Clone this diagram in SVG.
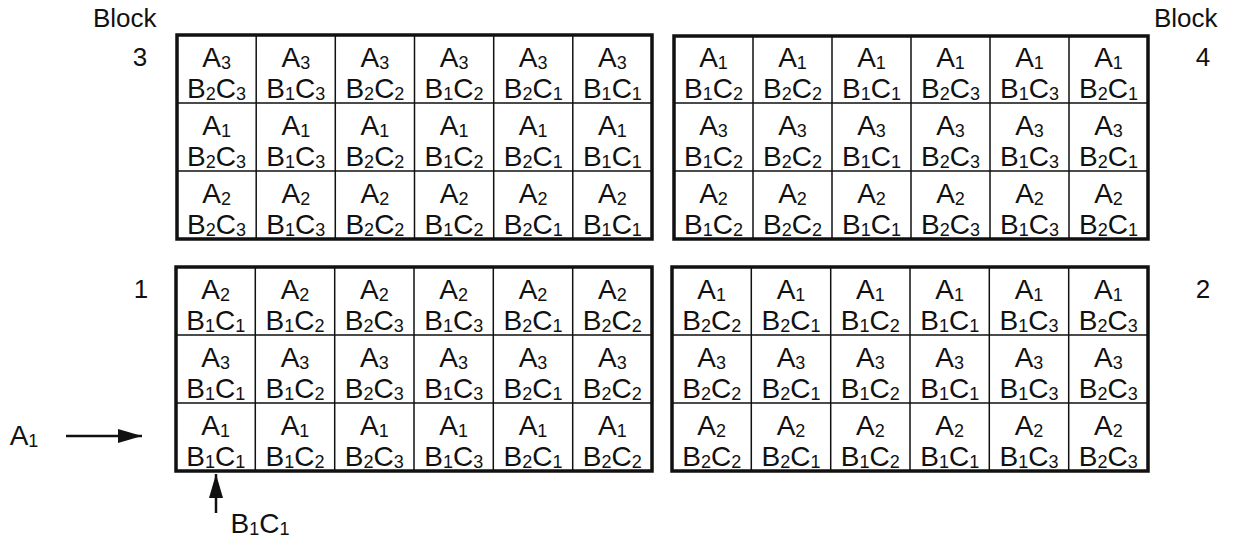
<svg xmlns="http://www.w3.org/2000/svg" width="1235" height="539" viewBox="0 0 1235 539">
<style>
  .t { font-family: "Liberation Sans", Arial, sans-serif; font-size: 28px; fill: #111; text-anchor: middle; }
  .s { font-size: 18px; }
  .lbl { font-family: "Liberation Sans", Arial, sans-serif; font-size: 26px; fill: #111; }
  .num { font-family: "Liberation Sans", Arial, sans-serif; font-size: 26px; fill: #111; text-anchor: middle; }
  .outer { fill: #fff; stroke: #111; stroke-width: 3.5; }
  .inner { fill: none; stroke: #111; stroke-width: 1.5; }
  .arrow { stroke: #111; stroke-width: 2.5; fill: none; }
</style>
<defs>
  <marker id="ah" viewBox="0 0 24 14" refX="24" refY="7" markerWidth="24" markerHeight="14" markerUnits="userSpaceOnUse" orient="auto">
    <path d="M0,0 L24,7 L0,14 Z" fill="#111"/>
  </marker>
</defs>
<rect width="1235" height="539" fill="#fff"/>

<g id="labels">
  <text class="lbl" x="93" y="27">Block</text>
  <text class="num" x="140" y="66">3</text>
  <text class="lbl" x="1154" y="27">Block</text>
  <text class="num" x="1203" y="66">4</text>
  <text class="num" x="141" y="298">1</text>
  <text class="num" x="1203" y="298">2</text>
</g>

<g id="block3">
  <rect class="outer" x="177" y="35" width="475" height="204"/>
  <path class="inner" d="M256.2,35V239M335.3,35V239M414.5,35V239M493.7,35V239M572.8,35V239M177,103H652M177,171H652"/>
  <g class="t">
    <text x="216.6" y="67">A<tspan class="s" dy="2">3</tspan><tspan x="216.6" dy="29">B</tspan><tspan class="s" dy="2">2</tspan><tspan dy="-2">C</tspan><tspan class="s" dy="2">3</tspan></text>
    <text x="295.8" y="67">A<tspan class="s" dy="2">3</tspan><tspan x="295.8" dy="29">B</tspan><tspan class="s" dy="2">1</tspan><tspan dy="-2">C</tspan><tspan class="s" dy="2">3</tspan></text>
    <text x="374.9" y="67">A<tspan class="s" dy="2">3</tspan><tspan x="374.9" dy="29">B</tspan><tspan class="s" dy="2">2</tspan><tspan dy="-2">C</tspan><tspan class="s" dy="2">2</tspan></text>
    <text x="454.1" y="67">A<tspan class="s" dy="2">3</tspan><tspan x="454.1" dy="29">B</tspan><tspan class="s" dy="2">1</tspan><tspan dy="-2">C</tspan><tspan class="s" dy="2">2</tspan></text>
    <text x="533.2" y="67">A<tspan class="s" dy="2">3</tspan><tspan x="533.2" dy="29">B</tspan><tspan class="s" dy="2">2</tspan><tspan dy="-2">C</tspan><tspan class="s" dy="2">1</tspan></text>
    <text x="612.4" y="67">A<tspan class="s" dy="2">3</tspan><tspan x="612.4" dy="29">B</tspan><tspan class="s" dy="2">1</tspan><tspan dy="-2">C</tspan><tspan class="s" dy="2">1</tspan></text>
    <text x="216.6" y="135">A<tspan class="s" dy="2">1</tspan><tspan x="216.6" dy="29">B</tspan><tspan class="s" dy="2">2</tspan><tspan dy="-2">C</tspan><tspan class="s" dy="2">3</tspan></text>
    <text x="295.8" y="135">A<tspan class="s" dy="2">1</tspan><tspan x="295.8" dy="29">B</tspan><tspan class="s" dy="2">1</tspan><tspan dy="-2">C</tspan><tspan class="s" dy="2">3</tspan></text>
    <text x="374.9" y="135">A<tspan class="s" dy="2">1</tspan><tspan x="374.9" dy="29">B</tspan><tspan class="s" dy="2">2</tspan><tspan dy="-2">C</tspan><tspan class="s" dy="2">2</tspan></text>
    <text x="454.1" y="135">A<tspan class="s" dy="2">1</tspan><tspan x="454.1" dy="29">B</tspan><tspan class="s" dy="2">1</tspan><tspan dy="-2">C</tspan><tspan class="s" dy="2">2</tspan></text>
    <text x="533.2" y="135">A<tspan class="s" dy="2">1</tspan><tspan x="533.2" dy="29">B</tspan><tspan class="s" dy="2">2</tspan><tspan dy="-2">C</tspan><tspan class="s" dy="2">1</tspan></text>
    <text x="612.4" y="135">A<tspan class="s" dy="2">1</tspan><tspan x="612.4" dy="29">B</tspan><tspan class="s" dy="2">1</tspan><tspan dy="-2">C</tspan><tspan class="s" dy="2">1</tspan></text>
    <text x="216.6" y="203">A<tspan class="s" dy="2">2</tspan><tspan x="216.6" dy="29">B</tspan><tspan class="s" dy="2">2</tspan><tspan dy="-2">C</tspan><tspan class="s" dy="2">3</tspan></text>
    <text x="295.8" y="203">A<tspan class="s" dy="2">2</tspan><tspan x="295.8" dy="29">B</tspan><tspan class="s" dy="2">1</tspan><tspan dy="-2">C</tspan><tspan class="s" dy="2">3</tspan></text>
    <text x="374.9" y="203">A<tspan class="s" dy="2">2</tspan><tspan x="374.9" dy="29">B</tspan><tspan class="s" dy="2">2</tspan><tspan dy="-2">C</tspan><tspan class="s" dy="2">2</tspan></text>
    <text x="454.1" y="203">A<tspan class="s" dy="2">2</tspan><tspan x="454.1" dy="29">B</tspan><tspan class="s" dy="2">1</tspan><tspan dy="-2">C</tspan><tspan class="s" dy="2">2</tspan></text>
    <text x="533.2" y="203">A<tspan class="s" dy="2">2</tspan><tspan x="533.2" dy="29">B</tspan><tspan class="s" dy="2">2</tspan><tspan dy="-2">C</tspan><tspan class="s" dy="2">1</tspan></text>
    <text x="612.4" y="203">A<tspan class="s" dy="2">2</tspan><tspan x="612.4" dy="29">B</tspan><tspan class="s" dy="2">1</tspan><tspan dy="-2">C</tspan><tspan class="s" dy="2">1</tspan></text>
  </g>
</g>

<g id="block4">
  <rect class="outer" x="674" y="36" width="474" height="203"/>
  <path class="inner" d="M753,36V239M832,36V239M911,36V239M990,36V239M1069,36V239M674,103H1148M674,171H1148"/>
  <g class="t">
    <text x="713.5" y="67">A<tspan class="s" dy="2">1</tspan><tspan x="713.5" dy="29">B</tspan><tspan class="s" dy="2">1</tspan><tspan dy="-2">C</tspan><tspan class="s" dy="2">2</tspan></text>
    <text x="792.5" y="67">A<tspan class="s" dy="2">1</tspan><tspan x="792.5" dy="29">B</tspan><tspan class="s" dy="2">2</tspan><tspan dy="-2">C</tspan><tspan class="s" dy="2">2</tspan></text>
    <text x="871.5" y="67">A<tspan class="s" dy="2">1</tspan><tspan x="871.5" dy="29">B</tspan><tspan class="s" dy="2">1</tspan><tspan dy="-2">C</tspan><tspan class="s" dy="2">1</tspan></text>
    <text x="950.5" y="67">A<tspan class="s" dy="2">1</tspan><tspan x="950.5" dy="29">B</tspan><tspan class="s" dy="2">2</tspan><tspan dy="-2">C</tspan><tspan class="s" dy="2">3</tspan></text>
    <text x="1029.5" y="67">A<tspan class="s" dy="2">1</tspan><tspan x="1029.5" dy="29">B</tspan><tspan class="s" dy="2">1</tspan><tspan dy="-2">C</tspan><tspan class="s" dy="2">3</tspan></text>
    <text x="1108.5" y="67">A<tspan class="s" dy="2">1</tspan><tspan x="1108.5" dy="29">B</tspan><tspan class="s" dy="2">2</tspan><tspan dy="-2">C</tspan><tspan class="s" dy="2">1</tspan></text>
    <text x="713.5" y="135">A<tspan class="s" dy="2">3</tspan><tspan x="713.5" dy="29">B</tspan><tspan class="s" dy="2">1</tspan><tspan dy="-2">C</tspan><tspan class="s" dy="2">2</tspan></text>
    <text x="792.5" y="135">A<tspan class="s" dy="2">3</tspan><tspan x="792.5" dy="29">B</tspan><tspan class="s" dy="2">2</tspan><tspan dy="-2">C</tspan><tspan class="s" dy="2">2</tspan></text>
    <text x="871.5" y="135">A<tspan class="s" dy="2">3</tspan><tspan x="871.5" dy="29">B</tspan><tspan class="s" dy="2">1</tspan><tspan dy="-2">C</tspan><tspan class="s" dy="2">1</tspan></text>
    <text x="950.5" y="135">A<tspan class="s" dy="2">3</tspan><tspan x="950.5" dy="29">B</tspan><tspan class="s" dy="2">2</tspan><tspan dy="-2">C</tspan><tspan class="s" dy="2">3</tspan></text>
    <text x="1029.5" y="135">A<tspan class="s" dy="2">3</tspan><tspan x="1029.5" dy="29">B</tspan><tspan class="s" dy="2">1</tspan><tspan dy="-2">C</tspan><tspan class="s" dy="2">3</tspan></text>
    <text x="1108.5" y="135">A<tspan class="s" dy="2">3</tspan><tspan x="1108.5" dy="29">B</tspan><tspan class="s" dy="2">2</tspan><tspan dy="-2">C</tspan><tspan class="s" dy="2">1</tspan></text>
    <text x="713.5" y="203">A<tspan class="s" dy="2">2</tspan><tspan x="713.5" dy="29">B</tspan><tspan class="s" dy="2">1</tspan><tspan dy="-2">C</tspan><tspan class="s" dy="2">2</tspan></text>
    <text x="792.5" y="203">A<tspan class="s" dy="2">2</tspan><tspan x="792.5" dy="29">B</tspan><tspan class="s" dy="2">2</tspan><tspan dy="-2">C</tspan><tspan class="s" dy="2">2</tspan></text>
    <text x="871.5" y="203">A<tspan class="s" dy="2">2</tspan><tspan x="871.5" dy="29">B</tspan><tspan class="s" dy="2">1</tspan><tspan dy="-2">C</tspan><tspan class="s" dy="2">1</tspan></text>
    <text x="950.5" y="203">A<tspan class="s" dy="2">2</tspan><tspan x="950.5" dy="29">B</tspan><tspan class="s" dy="2">2</tspan><tspan dy="-2">C</tspan><tspan class="s" dy="2">3</tspan></text>
    <text x="1029.5" y="203">A<tspan class="s" dy="2">2</tspan><tspan x="1029.5" dy="29">B</tspan><tspan class="s" dy="2">1</tspan><tspan dy="-2">C</tspan><tspan class="s" dy="2">3</tspan></text>
    <text x="1108.5" y="203">A<tspan class="s" dy="2">2</tspan><tspan x="1108.5" dy="29">B</tspan><tspan class="s" dy="2">2</tspan><tspan dy="-2">C</tspan><tspan class="s" dy="2">1</tspan></text>
  </g>
</g>

<g id="block1">
  <rect class="outer" x="176" y="267" width="476" height="204"/>
  <path class="inner" d="M255.3,267V471M334.7,267V471M414,267V471M493.3,267V471M572.7,267V471M176,335H652M176,403H652"/>
  <g class="t">
    <text x="215.7" y="299">A<tspan class="s" dy="2">2</tspan><tspan x="215.7" dy="29">B</tspan><tspan class="s" dy="2">1</tspan><tspan dy="-2">C</tspan><tspan class="s" dy="2">1</tspan></text>
    <text x="295" y="299">A<tspan class="s" dy="2">2</tspan><tspan x="295" dy="29">B</tspan><tspan class="s" dy="2">1</tspan><tspan dy="-2">C</tspan><tspan class="s" dy="2">2</tspan></text>
    <text x="374.3" y="299">A<tspan class="s" dy="2">2</tspan><tspan x="374.3" dy="29">B</tspan><tspan class="s" dy="2">2</tspan><tspan dy="-2">C</tspan><tspan class="s" dy="2">3</tspan></text>
    <text x="453.7" y="299">A<tspan class="s" dy="2">2</tspan><tspan x="453.7" dy="29">B</tspan><tspan class="s" dy="2">1</tspan><tspan dy="-2">C</tspan><tspan class="s" dy="2">3</tspan></text>
    <text x="533" y="299">A<tspan class="s" dy="2">2</tspan><tspan x="533" dy="29">B</tspan><tspan class="s" dy="2">2</tspan><tspan dy="-2">C</tspan><tspan class="s" dy="2">1</tspan></text>
    <text x="612.3" y="299">A<tspan class="s" dy="2">2</tspan><tspan x="612.3" dy="29">B</tspan><tspan class="s" dy="2">2</tspan><tspan dy="-2">C</tspan><tspan class="s" dy="2">2</tspan></text>
    <text x="215.7" y="367">A<tspan class="s" dy="2">3</tspan><tspan x="215.7" dy="29">B</tspan><tspan class="s" dy="2">1</tspan><tspan dy="-2">C</tspan><tspan class="s" dy="2">1</tspan></text>
    <text x="295" y="367">A<tspan class="s" dy="2">3</tspan><tspan x="295" dy="29">B</tspan><tspan class="s" dy="2">1</tspan><tspan dy="-2">C</tspan><tspan class="s" dy="2">2</tspan></text>
    <text x="374.3" y="367">A<tspan class="s" dy="2">3</tspan><tspan x="374.3" dy="29">B</tspan><tspan class="s" dy="2">2</tspan><tspan dy="-2">C</tspan><tspan class="s" dy="2">3</tspan></text>
    <text x="453.7" y="367">A<tspan class="s" dy="2">3</tspan><tspan x="453.7" dy="29">B</tspan><tspan class="s" dy="2">1</tspan><tspan dy="-2">C</tspan><tspan class="s" dy="2">3</tspan></text>
    <text x="533" y="367">A<tspan class="s" dy="2">3</tspan><tspan x="533" dy="29">B</tspan><tspan class="s" dy="2">2</tspan><tspan dy="-2">C</tspan><tspan class="s" dy="2">1</tspan></text>
    <text x="612.3" y="367">A<tspan class="s" dy="2">3</tspan><tspan x="612.3" dy="29">B</tspan><tspan class="s" dy="2">2</tspan><tspan dy="-2">C</tspan><tspan class="s" dy="2">2</tspan></text>
    <text x="215.7" y="435">A<tspan class="s" dy="2">1</tspan><tspan x="215.7" dy="29">B</tspan><tspan class="s" dy="2">1</tspan><tspan dy="-2">C</tspan><tspan class="s" dy="2">1</tspan></text>
    <text x="295" y="435">A<tspan class="s" dy="2">1</tspan><tspan x="295" dy="29">B</tspan><tspan class="s" dy="2">1</tspan><tspan dy="-2">C</tspan><tspan class="s" dy="2">2</tspan></text>
    <text x="374.3" y="435">A<tspan class="s" dy="2">1</tspan><tspan x="374.3" dy="29">B</tspan><tspan class="s" dy="2">2</tspan><tspan dy="-2">C</tspan><tspan class="s" dy="2">3</tspan></text>
    <text x="453.7" y="435">A<tspan class="s" dy="2">1</tspan><tspan x="453.7" dy="29">B</tspan><tspan class="s" dy="2">1</tspan><tspan dy="-2">C</tspan><tspan class="s" dy="2">3</tspan></text>
    <text x="533" y="435">A<tspan class="s" dy="2">1</tspan><tspan x="533" dy="29">B</tspan><tspan class="s" dy="2">2</tspan><tspan dy="-2">C</tspan><tspan class="s" dy="2">1</tspan></text>
    <text x="612.3" y="435">A<tspan class="s" dy="2">1</tspan><tspan x="612.3" dy="29">B</tspan><tspan class="s" dy="2">2</tspan><tspan dy="-2">C</tspan><tspan class="s" dy="2">2</tspan></text>
  </g>
</g>

<g id="block2">
  <rect class="outer" x="672" y="267" width="476" height="204"/>
  <path class="inner" d="M751.3,267V471M830.7,267V471M910,267V471M989.3,267V471M1068.7,267V471M672,335H1148M672,403H1148"/>
  <g class="t">
    <text x="711.7" y="299">A<tspan class="s" dy="2">1</tspan><tspan x="711.7" dy="29">B</tspan><tspan class="s" dy="2">2</tspan><tspan dy="-2">C</tspan><tspan class="s" dy="2">2</tspan></text>
    <text x="791" y="299">A<tspan class="s" dy="2">1</tspan><tspan x="791" dy="29">B</tspan><tspan class="s" dy="2">2</tspan><tspan dy="-2">C</tspan><tspan class="s" dy="2">1</tspan></text>
    <text x="870.3" y="299">A<tspan class="s" dy="2">1</tspan><tspan x="870.3" dy="29">B</tspan><tspan class="s" dy="2">1</tspan><tspan dy="-2">C</tspan><tspan class="s" dy="2">2</tspan></text>
    <text x="949.7" y="299">A<tspan class="s" dy="2">1</tspan><tspan x="949.7" dy="29">B</tspan><tspan class="s" dy="2">1</tspan><tspan dy="-2">C</tspan><tspan class="s" dy="2">1</tspan></text>
    <text x="1029" y="299">A<tspan class="s" dy="2">1</tspan><tspan x="1029" dy="29">B</tspan><tspan class="s" dy="2">1</tspan><tspan dy="-2">C</tspan><tspan class="s" dy="2">3</tspan></text>
    <text x="1108.3" y="299">A<tspan class="s" dy="2">1</tspan><tspan x="1108.3" dy="29">B</tspan><tspan class="s" dy="2">2</tspan><tspan dy="-2">C</tspan><tspan class="s" dy="2">3</tspan></text>
    <text x="711.7" y="367">A<tspan class="s" dy="2">3</tspan><tspan x="711.7" dy="29">B</tspan><tspan class="s" dy="2">2</tspan><tspan dy="-2">C</tspan><tspan class="s" dy="2">2</tspan></text>
    <text x="791" y="367">A<tspan class="s" dy="2">3</tspan><tspan x="791" dy="29">B</tspan><tspan class="s" dy="2">2</tspan><tspan dy="-2">C</tspan><tspan class="s" dy="2">1</tspan></text>
    <text x="870.3" y="367">A<tspan class="s" dy="2">3</tspan><tspan x="870.3" dy="29">B</tspan><tspan class="s" dy="2">1</tspan><tspan dy="-2">C</tspan><tspan class="s" dy="2">2</tspan></text>
    <text x="949.7" y="367">A<tspan class="s" dy="2">3</tspan><tspan x="949.7" dy="29">B</tspan><tspan class="s" dy="2">1</tspan><tspan dy="-2">C</tspan><tspan class="s" dy="2">1</tspan></text>
    <text x="1029" y="367">A<tspan class="s" dy="2">3</tspan><tspan x="1029" dy="29">B</tspan><tspan class="s" dy="2">1</tspan><tspan dy="-2">C</tspan><tspan class="s" dy="2">3</tspan></text>
    <text x="1108.3" y="367">A<tspan class="s" dy="2">3</tspan><tspan x="1108.3" dy="29">B</tspan><tspan class="s" dy="2">2</tspan><tspan dy="-2">C</tspan><tspan class="s" dy="2">3</tspan></text>
    <text x="711.7" y="435">A<tspan class="s" dy="2">2</tspan><tspan x="711.7" dy="29">B</tspan><tspan class="s" dy="2">2</tspan><tspan dy="-2">C</tspan><tspan class="s" dy="2">2</tspan></text>
    <text x="791" y="435">A<tspan class="s" dy="2">2</tspan><tspan x="791" dy="29">B</tspan><tspan class="s" dy="2">2</tspan><tspan dy="-2">C</tspan><tspan class="s" dy="2">1</tspan></text>
    <text x="870.3" y="435">A<tspan class="s" dy="2">2</tspan><tspan x="870.3" dy="29">B</tspan><tspan class="s" dy="2">1</tspan><tspan dy="-2">C</tspan><tspan class="s" dy="2">2</tspan></text>
    <text x="949.7" y="435">A<tspan class="s" dy="2">2</tspan><tspan x="949.7" dy="29">B</tspan><tspan class="s" dy="2">1</tspan><tspan dy="-2">C</tspan><tspan class="s" dy="2">1</tspan></text>
    <text x="1029" y="435">A<tspan class="s" dy="2">2</tspan><tspan x="1029" dy="29">B</tspan><tspan class="s" dy="2">1</tspan><tspan dy="-2">C</tspan><tspan class="s" dy="2">3</tspan></text>
    <text x="1108.3" y="435">A<tspan class="s" dy="2">2</tspan><tspan x="1108.3" dy="29">B</tspan><tspan class="s" dy="2">2</tspan><tspan dy="-2">C</tspan><tspan class="s" dy="2">3</tspan></text>
  </g>
</g>

<g id="pointer-a1">
  <text class="t" x="24" y="445">A<tspan class="s" dy="2">1</tspan></text>
</g>
<g id="pointer-b1c1">
  <text class="t" x="260" y="533">B<tspan class="s" dy="2">1</tspan><tspan dy="-2">C</tspan><tspan class="s" dy="2">1</tspan></text>
</g>

<g id="connectors">
  <path class="arrow" d="M66,436 H142" marker-end="url(#ah)"/>
  <path class="arrow" d="M216,513 V474" marker-end="url(#ah)"/>
</g>
</svg>
